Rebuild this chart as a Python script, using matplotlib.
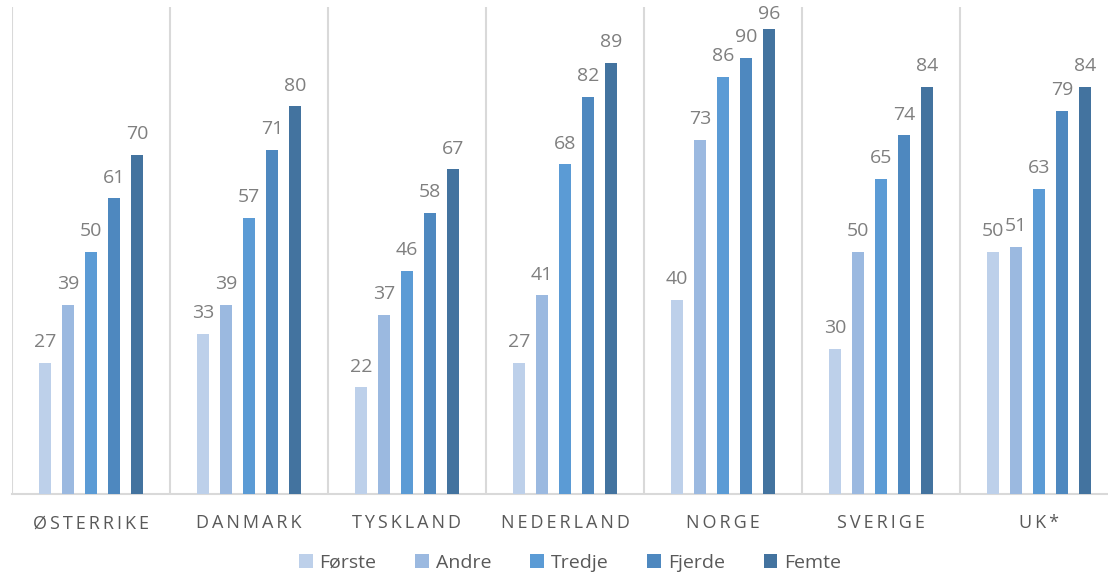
import numpy as np
import matplotlib
matplotlib.use("Agg")
import matplotlib.pyplot as plt

# --- data -------------------------------------------------------------
countries = ["ØSTERRIKE", "DANMARK", "TYSKLAND", "NEDERLAND", "NORGE", "SVERIGE", "UK*"]
series_names = ["Første", "Andre", "Tredje", "Fjerde", "Femte"]

forste = [27, 33, 22, 27, 40, 30, 50]
andre  = [39, 39, 37, 41, 73, 50, 51]
tredje = [50, 57, 46, 68, 86, 65, 63]
fjerde = [61, 71, 58, 82, 90, 74, 79]
femte  = [70, 80, 67, 89, 96, 84, 84]

colors = ["#BDD0EA", "#9BB9E0", "#5B9BD5", "#4E88BF", "#43739F"]

# --- figure -----------------------------------------------------------
plt.rcParams["font.family"] = ["Open Sans", "DejaVu Sans"]

W, H = 1108, 579
fig = plt.figure(figsize=(W / 100, H / 100), dpi=100)
# plot area: left edge 12 px, baseline 494 px, top 7 px, 158 px per category
ax = fig.add_axes([12 / W, (H - 494) / H, 7 * 158 / W, (494 - 7) / H])

all_series = [forste, andre, tredje, fjerde, femte]
x = np.arange(len(countries)) + 0.5
step = 23 / 158
bw = 12 / 158

labels = []
for i, (vals, col) in enumerate(zip(all_series, colors)):
    xs = x + (i - 2) * step
    bars = ax.bar(xs, vals, width=bw, color=col, label=series_names[i], zorder=3)
    for b, v in zip(bars, vals):
        t = ax.annotate(str(v), (b.get_x() + b.get_width() / 2, v),
                        xytext=(0, 8.5), textcoords="offset points",
                        ha="center", va="bottom", fontsize=14, color="#7F7F7F")
        labels.append(t)

ax.set_xlim(0, len(countries))
ax.set_ylim(0, 100.5)

# category separators
for sep in range(len(countries) + 1):
    ax.axvline(sep, color="#D9D9D9", lw=1.5, zorder=1)

for s in ["top", "right", "left"]:
    ax.spines[s].set_visible(False)
ax.spines["bottom"].set_color("#D9D9D9")
ax.spines["bottom"].set_linewidth(1.5)

ax.set_yticks([])
ax.set_xticks(x)
ax.set_xticklabels(["\u2009".join(c) for c in countries],
                   fontsize=13, color="#595959")
ax.tick_params(axis="x", length=0, pad=14.5)

fig.legend(loc="center", bbox_to_anchor=(570 / W, 1 - 563 / H), ncol=5,
           frameon=False, fontsize=14, labelcolor="#595959",
           handlelength=0.7, handleheight=0.7, handletextpad=0.35,
           columnspacing=2.0)

# keep value labels inside the figure: push down any that overflow the top
fig.canvas.draw()
renderer = fig.canvas.get_renderer()
for t in labels:
    bb = t.get_window_extent(renderer)
    over = bb.y1 - (H - 5)
    if over > 0:
        dx, dy = t.xyann
        t.xyann = (dx, dy - over * 72 / fig.dpi)

fig.savefig("out.png", dpi=100)
